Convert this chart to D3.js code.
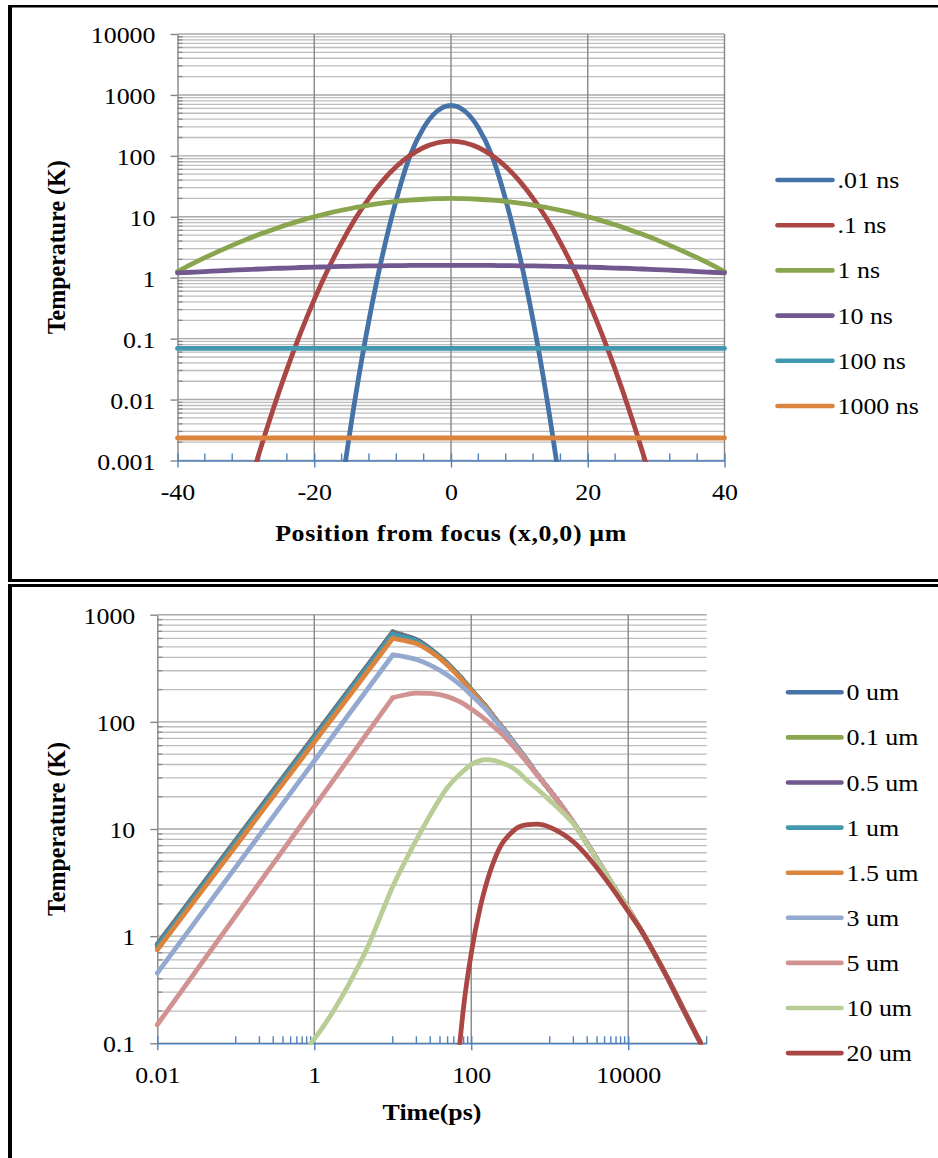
<!DOCTYPE html>
<html><head><meta charset="utf-8">
<script src="https://cdn.jsdelivr.net/npm/d3@7"></script>
<style>body{margin:0;background:#fff}svg{display:block}</style>
</head><body><svg id="c" width="938" height="1158"></svg>
<script>
// ================= DATA =================
// Top chart: temperature vs position at several times
const positionUm = [-40,-38,-36,-34,-32,-30,-28,-26,-24,-22,-20,-18,-16,-14,-12,-10,-8,-6,-4,-2,0,2,4,6,8,10,12,14,16,18,20,22,24,26,28,30,32,34,36,38,40];
const T_001ns = [null,null,null,null,null,null,null,null,null,null,null,null,0.00036,0.0107,0.2,2.4,19,100,290,545,676,545,290,100,19,2.4,0.2,0.0107,0.00036,null,null,null,null,null,null,null,null,null,null,null,null];
const T_01ns  = [null,null,null,null,null,0.000245,0.00139,0.00702,0.0313,0.124,0.437,1.36,3.77,9.25,20.1,38.9,66.7,101,137,164,174,164,137,101,66.7,38.9,20.1,9.25,3.77,1.36,0.437,0.124,0.0313,0.00702,0.00139,0.000245,null,null,null,null,null];
const T_1ns   = [1.26,1.65,2.13,2.71,3.40,4.22,5.15,6.21,7.38,8.65,10.0,11.4,12.8,14.2,15.6,16.8,17.9,18.8,19.4,19.8,20.0,19.8,19.4,18.8,17.9,16.8,15.6,14.2,12.8,11.4,10.0,8.65,7.38,6.21,5.15,4.22,3.40,2.71,2.13,1.65,1.26];
const T_10ns  = [1.20,1.23,1.26,1.30,1.33,1.36,1.39,1.42,1.44,1.47,1.49,1.51,1.53,1.55,1.56,1.57,1.58,1.59,1.60,1.60,1.60,1.60,1.60,1.59,1.58,1.57,1.56,1.55,1.53,1.51,1.49,1.47,1.44,1.42,1.39,1.36,1.33,1.30,1.26,1.23,1.20];
const T_100ns = [0.069,null,null,null,null,null,null,null,null,null,0.069,null,null,null,null,null,null,null,null,null,0.069,null,null,null,null,null,null,null,null,null,0.069,null,null,null,null,null,null,null,null,null,0.069];
const T_1000ns= [0.00234,null,null,null,null,null,null,null,null,null,0.00234,null,null,null,null,null,null,null,null,null,0.00234,null,null,null,null,null,null,null,null,null,0.00234,null,null,null,null,null,null,null,null,null,0.00234];
const topNames = [".01 ns",".1 ns","1 ns","10 ns","100 ns","1000 ns"];
const topXTicks = [-40,-20,0,20,40];
const topYTicks = [0.001,0.01,0.1,1,10,100,1000,10000];
const topYLabels = ["0.001","0.01","0.1","1","10","100","1000","10000"];

// Bottom chart: temperature vs time at several radii
const timePs = [0.01,0.9,1,2,3,5,7,10,15,20,30,50,70,80,100,130,150,200,250,300,400,500,700,1000,1500,2000,3000,5000,7000,10000,15000,20000,30000,50000,84000];
const N = null;
const T_0um  = [0.84,N,N,N,N,N,N,692,630,585,480,350,270,243,199,160,142,108,88,74,56,45,32,23,15.5,11.5,7.3,4.0,2.7,1.8,1.1,0.76,0.44,0.21,0.1];
const T_01um = [0.838,N,N,N,N,N,N,688,628,584,479,350,270,243,199,160,142,108,88,74,56,45,32,23,15.5,11.5,7.3,4.0,2.7,1.8,1.1,0.76,0.44,0.21,0.1];
const T_05um = [0.825,N,N,N,N,N,N,678,622,580,477,349,269,242,199,160,142,108,88,74,56,45,32,23,15.5,11.5,7.3,4.0,2.7,1.8,1.1,0.76,0.44,0.21,0.1];
const T_1um  = [0.80,N,N,N,N,N,N,660,608,570,471,346,268,241,198,160,142,108,88,74,56,45,32,23,15.5,11.5,7.3,4.0,2.7,1.8,1.1,0.76,0.44,0.21,0.1];
const T_15um = [0.745,N,N,N,N,N,N,603,566,538,455,338,263,237,196,158,141,107,88,74,56,45,32,23,15.5,11.5,7.3,4.0,2.7,1.8,1.1,0.76,0.44,0.21,0.1];
const T_3um  = [0.452,N,N,N,N,N,N,421,402,382,338,272,226,208,178,148,134,104,86,72.5,55,44.5,32,23,15.5,11.5,7.3,4.0,2.7,1.8,1.1,0.76,0.44,0.21,0.1];
const T_5um  = [0.149,N,N,N,N,N,N,168,180,185,184,172,155,147,132,115,106,88,76,66,52,43,31.5,23,15.5,11.5,7.3,4.0,2.7,1.8,1.1,0.76,0.44,0.21,0.1];
const T_10um = [N,0.1,0.11,0.235,0.4,0.85,1.55,2.9,5.3,7.9,13.5,24.5,32,35,40,43.5,44.5,43.5,41,39,34,29,23.5,18.5,14,11.2,7.2,4.0,2.7,1.8,1.1,0.76,0.44,0.21,0.1];
const T_20um = [N,N,N,N,N,N,N,N,N,N,N,N,0.085,0.22,0.69,1.85,2.8,5.3,7.4,8.7,10.4,10.9,11.1,10.4,8.9,7.6,5.6,3.5,2.5,1.7,1.1,0.76,0.44,0.21,0.1];
const bottomNames = ["0 um","0.1 um","0.5 um","1 um","1.5 um","3 um","5 um","10 um","20 um"];
const bottomXTicks = [0.01,1,100,10000];
const bottomXLabels = ["0.01","1","100","10000"];
const bottomYTicks = [0.1,1,10,100,1000];
const bottomYLabels = ["0.1","1","10","100","1000"];

// ================= STYLE =================
const FONT = '"Liberation Serif","Times New Roman",serif';
const SX = 1.08;           // horizontal text stretch
const FS = 24;
const topColors = ["#4572a7","#aa4643","#89a54e","#71588f","#4198af","#db843d"];
const bottomColors = ["#4572a7","#89a54e","#71588f","#4198af","#db843d","#93a9cf","#d19392","#b9cd96","#aa4643"];
const bottomSharpPeak = [true,true,true,true,true,true,true,false,false];
const GRID_MAJOR_V = "#878787", GRID_H = "#bdbdbd", GRID_H_MAJ = "#a9a9a9", AXIS_GRAY = "#868686", AXIS_BLUE = "#4f81bd";

const svg = d3.select("#c");
svg.append("rect").attr("width",938).attr("height",1158).attr("fill","#fff");

function text(g, x, y, str, opt={}) {
  const t = g.append("text")
    .attr("transform", `translate(${x},${y})` + (opt.rot ? ` scale(${SX},1) rotate(-90)` : ` scale(${SX},1)`))
    .attr("font-family", FONT).attr("font-size", opt.size||FS)
    .attr("font-weight", opt.bold ? "bold" : "normal")
    .attr("letter-spacing", opt.ls||0)
    .attr("text-anchor", opt.anchor||"start").attr("fill","#000").text(str);
  return t;
}

function panel(cfg) {
  const g = svg.append("g");
  const {x, y, x0, x1, y0, y1} = cfg;
  g.append("g").selectAll("line").data(cfg.yMinor).join("line")
    .attr("x1",x0).attr("x2",x1).attr("y1",d=>y(d)).attr("y2",d=>y(d))
    .attr("stroke",GRID_H).attr("stroke-width",1.3);
  g.append("g").selectAll("line").data(cfg.yTicks).join("line")
    .attr("x1",x0).attr("x2",x1).attr("y1",d=>y(d)).attr("y2",d=>y(d))
    .attr("stroke",GRID_H_MAJ).attr("stroke-width",1.4);
  g.append("g").selectAll("line").data(cfg.xGrid).join("line")
    .attr("x1",d=>x(d)).attr("x2",d=>x(d)).attr("y1",y1).attr("y2",y0)
    .attr("stroke",GRID_MAJOR_V).attr("stroke-width",1.4);
  g.append("g").selectAll("line").data(cfg.yMinor).join("line")
    .attr("x1",x0).attr("x2",x0+5).attr("y1",d=>y(d)).attr("y2",d=>y(d))
    .attr("stroke",AXIS_GRAY).attr("stroke-width",1.3);
  const ya = g.append("g").attr("transform",`translate(${x0},0)`)
    .call(d3.axisLeft(y).tickValues(cfg.yTicks).tickFormat((d,i)=>cfg.yLabels[i]).tickSize(7).tickSizeOuter(0).tickPadding(15));
  ya.select(".domain").attr("stroke",AXIS_GRAY).attr("stroke-width",1.4);
  ya.selectAll(".tick line").attr("stroke",AXIS_GRAY).attr("stroke-width",1.4);
  ya.selectAll(".tick text").attr("font-family",FONT).attr("font-size",FS).attr("fill","#000")
    .attr("x",-22/SX).attr("dy","0.36em").attr("transform",`scale(${SX},1)`);
  g.append("g").selectAll("line").data(cfg.xMinor).join("line")
    .attr("x1",d=>x(d)).attr("x2",d=>x(d)).attr("y1",y0-7).attr("y2",y0)
    .attr("stroke",AXIS_BLUE).attr("stroke-width",1.4);
  const xa = g.append("g").attr("transform",`translate(0,${y0})`)
    .call(d3.axisBottom(x).tickValues(cfg.xTicks).tickFormat((d,i)=>cfg.xLabels[i]).tickSize(7).tickSizeOuter(0));
  xa.select(".domain").attr("stroke",AXIS_BLUE).attr("stroke-width",1.6);
  xa.selectAll(".tick line").attr("stroke",AXIS_BLUE).attr("stroke-width",1.4).attr("y1",-7);
  xa.selectAll(".tick text").attr("font-family",FONT).attr("font-size",FS).attr("fill","#000")
    .attr("y",cfg.xLabelBase).attr("dy",0).attr("transform",`scale(${SX},1)`).attr("x",0);
  const cid = "clip"+cfg.id;
  svg.append("clipPath").attr("id",cid).append("rect")
    .attr("x",x0-3).attr("y",y1-4).attr("width",x1-x0+6).attr("height",y0-y1+5.5);
  const sg = g.append("g").attr("clip-path",`url(#${cid})`);
  cfg.series.forEach((s,i)=>{
    const pts = cfg.xs.map((xv,k)=>[xv,s[k]]).filter(p=>p[1]!=null);
    const sharp = cfg.sharp ? cfg.sharp[i] : false;
    const draw = (arr, curve) => sg.append("path")
      .attr("d", d3.line().x(p=>x(p[0])).y(p=>y(p[1])).curve(curve)(arr))
      .attr("fill","none").attr("stroke",cfg.colors[i]).attr("stroke-width",cfg.lw)
      .attr("stroke-linejoin","round").attr("stroke-linecap","round");
    if (sharp) {
      const k = pts.findIndex(p=>p[0]===cfg.peakX);
      draw(pts.slice(0,k+1), d3.curveLinear);
      draw(pts.slice(k), d3.curveMonotoneX);
    } else draw(pts, d3.curveMonotoneX);
  });
  const lg = g.append("g");
  cfg.names.forEach((n,i)=>{
    const ly = cfg.legY + i*cfg.legStep;
    lg.append("line").attr("x1",cfg.legX0).attr("x2",cfg.legX1).attr("y1",ly).attr("y2",ly)
      .attr("stroke",cfg.colors[i]).attr("stroke-width",4.6).attr("stroke-linecap","round");
    text(lg, cfg.legX1+5, ly+8, n);
  });
  text(g, cfg.xTitleX, cfg.xTitleY, cfg.xTitle, {bold:true, anchor:"middle", ls:cfg.xTitleLS||0});
  text(g, 65, (y0+y1)/2, "Temperature (K)", {bold:true, anchor:"middle", rot:true});
}

// ---------- top panel ----------
const xT = d3.scaleLinear([-40,40],[177.5,724.5]);
const yT = d3.scaleLog([0.001,10000],[460.5,34]);
const topYMinor = [];
for (let e=-3;e<4;e++) for (let m=2;m<=9;m++) topYMinor.push(m*Math.pow(10,e));
panel({id:"t", x:xT, y:yT, x0:177.5, x1:724.5, y0:460.5, y1:34,
  yTicks:topYTicks, yLabels:topYLabels, yMinor:topYMinor,
  xTicks:topXTicks, xLabels:topXTicks.map(String), xGrid:[-20,0,20,40],
  xMinor:d3.range(-36,40,4).filter(v=>v%20!==0), xLabelBase:39.5,
  xs:positionUm, series:[T_001ns,T_01ns,T_1ns,T_10ns,T_100ns,T_1000ns],
  colors:topColors, lw:4.8, names:topNames,
  legX0:777.5, legX1:832.5, legY:180, legStep:45.2,
  xTitle:"Position from focus (x,0,0) \u03bcm", xTitleX:451, xTitleY:541, xTitleLS:0.6});

// ---------- bottom panel ----------
const xB = d3.scaleLog([0.01,100000],[157.3,706.7]);
const yB = d3.scaleLog([0.1,1000],[1043.3,614.7]);
const botYMinor = [];
for (let e=-1;e<3;e++) for (let m=2;m<=9;m++) botYMinor.push(m*Math.pow(10,e));
const botXMinor = [];
[0.01,1,100,10000].forEach(M=>{ for (let k=1;k<=9;k++){ const v=M*10*k; if (v<=100000) botXMinor.push(v);} });
panel({id:"b", x:xB, y:yB, x0:157.3, x1:706.7, y0:1043.3, y1:614.7,
  yTicks:bottomYTicks, yLabels:bottomYLabels, yMinor:botYMinor,
  xTicks:bottomXTicks, xLabels:bottomXLabels, xGrid:[1,100,10000],
  xMinor:botXMinor, xLabelBase:40,
  xs:timePs, series:[T_0um,T_01um,T_05um,T_1um,T_15um,T_3um,T_5um,T_10um,T_20um],
  sharp:bottomSharpPeak, peakX:10,
  colors:bottomColors, lw:4.8, names:bottomNames,
  legX0:788, legX1:841.5, legY:692.3, legStep:45.1,
  xTitle:"Time(ps)", xTitleX:432, xTitleY:1120});

// ---------- panel borders ----------
const bd = svg.append("g").attr("stroke","#000");
bd.append("line").attr("x1",8).attr("x2",938).attr("y1",6.2).attr("y2",6.2).attr("stroke-width",2.6);
bd.append("line").attr("x1",10).attr("x2",10).attr("y1",5).attr("y2",582).attr("stroke-width",4);
bd.append("line").attr("x1",8).attr("x2",938).attr("y1",580.5).attr("y2",580.5).attr("stroke-width",3);
bd.append("line").attr("x1",8).attr("x2",938).attr("y1",585.6).attr("y2",585.6).attr("stroke-width",3);
bd.append("line").attr("x1",10).attr("x2",10).attr("y1",584).attr("y2",1158).attr("stroke-width",4);
</script></body></html>
